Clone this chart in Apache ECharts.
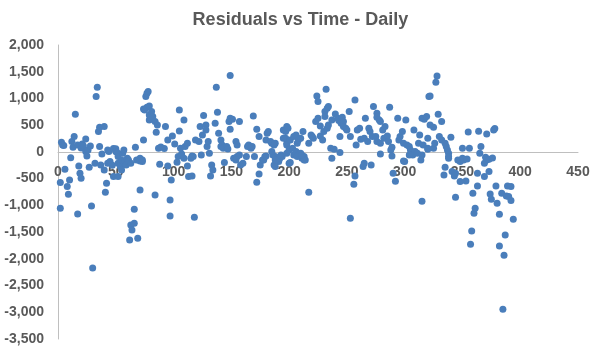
<!DOCTYPE html>
<html>
<head>
<meta charset="utf-8">
<script src="https://cdn.jsdelivr.net/npm/echarts@6/dist/echarts.min.js"></script>
<style>
  html, body { margin: 0; padding: 0; background: #fff; }
  #chart { width: 601px; height: 352px; }
</style>
</head>
<body>
<div id="chart"></div>
<script>
const xTicks = [0, 50, 100, 150, 200, 250, 300, 350, 400, 450];
const yTicks = [-3500, -3000, -2500, -2000, -1500, -1000, -500, 0, 500, 1000, 1500, 2000];

// day index
const days = [
  2, 2, 3, 4, 5, 6, 8, 9, 10, 11, 12, 13, 14, 15, 17, 17, 18, 19, 20, 20, 21,
  22, 24, 24, 25, 26, 27, 28, 29, 30, 32, 33, 34, 35, 36, 36, 37, 38, 40, 40,
  41, 42, 43, 43, 44, 45, 47, 48, 48, 50, 50, 51, 52, 52, 52, 54, 55, 55, 56, 57, 58, 58, 59, 60,
  61, 61, 62, 63, 63, 64, 66, 66, 67, 68, 69, 71, 71, 71, 73, 73, 74, 74, 75, 76, 77, 77, 78, 79, 79, 79,
  80, 81, 82, 84, 84, 85, 86, 87, 88, 89, 92, 93, 95, 95, 97, 97, 98, 99,
  101, 103, 104, 105, 105, 106, 107, 109, 109, 110, 112, 112, 113, 115, 116, 116, 117, 118, 119,
  122, 123, 124, 125, 126, 128, 128, 129, 130, 131, 132, 133, 134, 136, 137, 138, 139,
  141, 141, 142, 143, 144, 146, 147, 148, 149, 149, 149, 151, 152, 154, 155, 157, 155, 157, 154, 158, 160,
  164, 165, 167, 168, 163, 169, 170, 172, 174, 175, 177, 174, 172, 179, 180, 181, 182, 178, 180,
  184, 185, 187, 188, 186, 188, 190, 188, 191, 193, 194, 195, 198, 197, 198, 200, 192, 197, 199, 195, 198, 185, 187, 188, 198,
  201, 201, 204, 206, 207, 208, 210, 212, 200, 203, 204, 206, 208, 210, 211, 213, 214, 213, 217, 217, 219, 220, 221, 207, 211,
  224, 225, 223, 225, 227, 227, 229, 232, 231, 233, 234, 231, 230, 233, 234, 237, 240, 236, 239, 237,
  242, 243, 245, 246, 247, 247, 249, 250, 244, 244, 252, 253, 257, 253, 256, 257, 258, 259, 261, 262,
  265, 266, 268, 264, 265, 271, 269, 270, 272, 273, 276, 276, 278, 279, 275, 276, 279, 279,
  281, 282, 283, 285, 286, 287, 288, 289, 290, 292, 289, 294, 295, 296, 298, 299, 300, 299,
  301, 302, 304, 305, 307, 308, 309, 311, 312, 313, 315, 314, 304, 315, 315, 317, 319, 320, 321, 320, 316,
  322, 325, 326, 325, 322, 327, 328, 329, 330, 332, 335, 336, 337, 338, 332, 340, 338, 335, 334, 341, 338, 320,
  344, 346, 348, 350, 351, 354, 343, 344, 348, 353, 350, 356, 355, 357, 358, 359, 360, 361, 363, 363,
  364, 366, 365, 371, 378, 377, 370, 371, 369, 373, 376, 373, 369, 374, 375, 379, 380, 382, 382, 384,
  385, 386, 387, 388, 389, 390, 392, 392, 394
];

const residuals = [
  -1054, -574, 181, 131, 118, -324, -649, -792, -524, -107, 193, 88, 287, 705, 131, -1160, -262, -399, -493, 75, 150,
  112, 243, 6, -75, 37, -287, 112, -1010, -2170, -212, 1035, 1210, 380, 461, 100, -243, -37, 474, -337,
  -754, -586, -212, 37, 6, -181, -250, 62, -461, 60, 6, -5, -461, -212, -87, -274, -150, -337, -25, 37, -212, -181, -243, -118,
  -150, -181, -1647, -212, -1366, -1459, -1335, -1073, 87, -150, -1615, -711, -118, -168, -181, -150, 224, 805, 786, 1035, 1098, 836, 1128, 861, 692, 599,
  640, 754, 661, -805, 567, 368, 505, 69, -231, 90, 62, 474, 224, -262, -898, -1197, -524, 299,
  150, -193, -87, 786, 393, 69, -37, -118, 599, 100, 162, -262, -461, -118, -449, -75, -87, -1222, 224,
  193, 474, -56, 318, 680, 505, 412, 100, 193, -25, -449, -243, -337, 536, 1210, 743, 349,
  224, 100, 131, 69, -200, 100, 56, 567, 630, 1428, 424, 611, -118, 193, 131, 567, -87, -56, -150, -243, -212,
  100, 131, 69, 100, -87, 674, -87, 424, 287, -243, -150, -412, -568, -87, 224, 349, 380, -150, -75,
  193, 162, 131, 162, -56, -87, -118, -274, -181, -56, -87, 412, 474, 256, 162, -212, -118, 380, 443, 256, 131, 6, -243, -150, -25,
  -200, 224, 287, 318, 162, 224, 256, 380, 37, 69, -56, 6, -56, -25, -118, -87, -150, -150, -754, 162, 318, 287, 256, -87, -56,
  1048, 941, 567, 630, 486, 299, 224, 1173, 754, 817, 848, 661, 380, 443, 505, 599, 711, 69, 50, -118,
  630, 586, 536, 649, 567, 474, 443, 412, 287, -12, 754, 287, 973, -1241, -605, -449, 131, 412, 443, 237,
  256, 630, 193, -274, -212, -243, 443, 380, 287, 848, 724, 649, 599, 567, 287, 193, 162, -37,
  412, 256, 474, 299, 193, 836, 37, 87, -399, -549, -75, 630, 224, 287, 380, 162, -181, -168,
  599, 131, 100, 37, -56, 412, 6, -25, 162, 318, -56, -150, -56, -923, 630, 611, 661, 256, 1035, 69, 131,
  1048, 69, 162, 461, 505, 1304, 1422, 705, 287, 224, 162, 100, 37, -25, 567, 274, -118, -287, -430, -368, -87, 50,
  -848, -150, -181, -118, -150, -131, -449, -399, -555, -543, 69, 69, 374, -1727, -1478, -773, -1147, -1054, -636, -399,
  387, 100, -25, 337, 437, 412, -100, -150, -212, -137, -112, -368, -461, -786, -886, -636, -961, -1166, -1759, -773,
  -2943, -1934, -1553, -823, -636, -836, -649, -911, -1260
];

const points = days.map((d, i) => [d, residuals[i]]);
const labelColor = "#595959";
const axisColor = "#bfbfbf";
const font = "'Liberation Sans', Arial, sans-serif";

// plot box, in pixels
const gridTop = 45;
const gridBottom = 13;
const plotHeight = 352 - gridTop - gridBottom;
const yMin = yTicks[0];
const yMax = yTicks[yTicks.length - 1];
// lift the x axis (line + labels) from the bottom edge up to y = 0
const xAxisLift = plotHeight * (0 - yMin) / (yMax - yMin);

const chart = echarts.init(document.getElementById("chart"), null, { renderer: "canvas" });
chart.setOption({
  animation: false,
  title: {
    text: "Residuals vs Time - Daily",
    left: "center",
    top: 6,
    textStyle: { color: labelColor, fontSize: 18, fontWeight: "bold", fontFamily: font },
  },
  grid: { left: 58, right: 23, top: gridTop, bottom: gridBottom, outerBoundsMode: "none", containLabel: false },
  xAxis: {
    type: "value",
    min: xTicks[0],
    max: xTicks[xTicks.length - 1],
    interval: 50,
    offset: -xAxisLift,
    axisLine: { onZero: false, lineStyle: { color: axisColor, width: 1 } },
    axisTick: { show: false },
    splitLine: { show: false },
    axisLabel: { color: labelColor, fontSize: 14, fontWeight: "bold", fontFamily: font, margin: 13 },
  },
  yAxis: {
    type: "value",
    min: yMin,
    max: yMax,
    interval: 500,
    axisLine: { show: true, lineStyle: { color: axisColor, width: 1 } },
    axisTick: { show: false },
    splitLine: { show: false },
    axisLabel: {
      color: labelColor,
      fontSize: 14,
      fontWeight: "bold",
      fontFamily: font,
      margin: 14,
      formatter: (v) => v.toLocaleString("en-US"),
    },
  },
  series: [
    {
      type: "scatter",
      data: points,
      symbolSize: 7,
      itemStyle: { color: "#4a7ebb", opacity: 1 },
    },
  ],
});
</script>
</body>
</html>
